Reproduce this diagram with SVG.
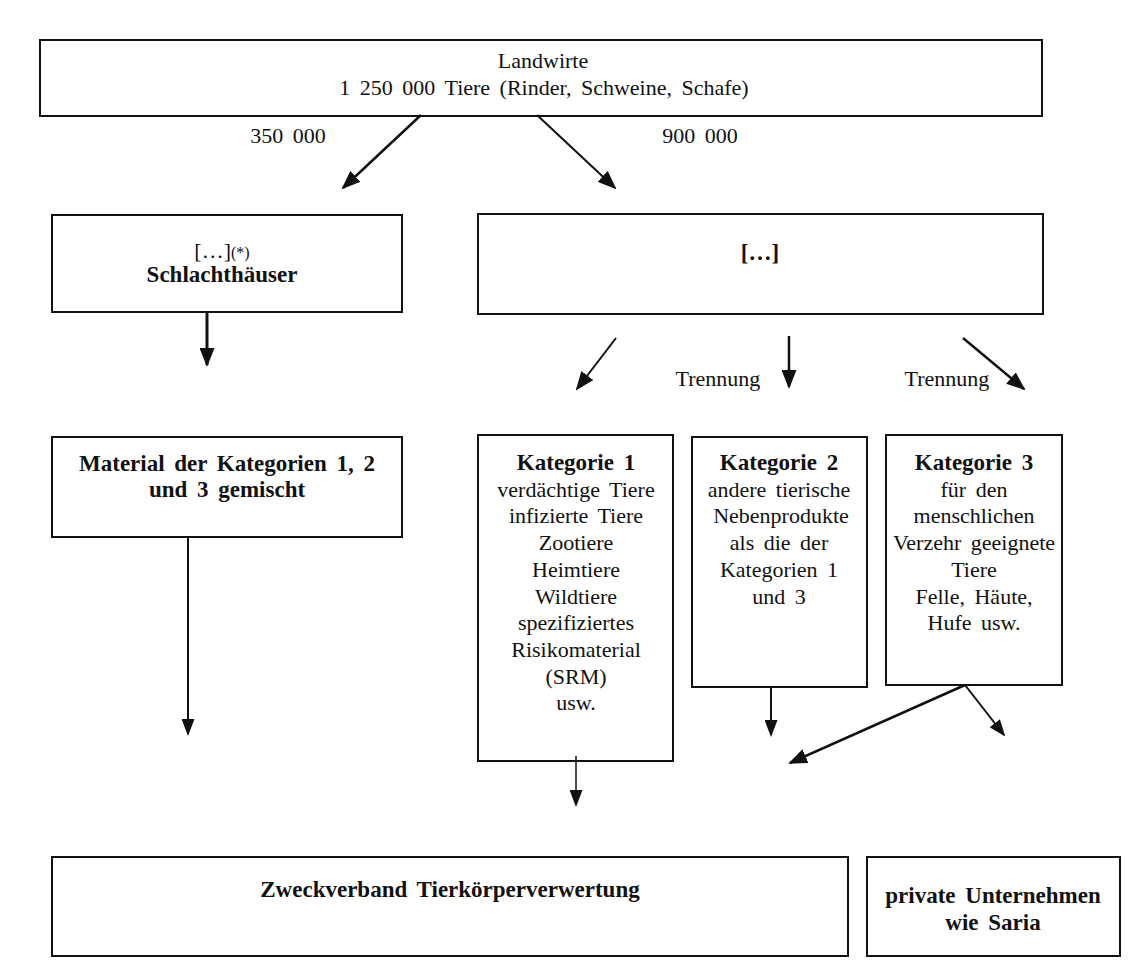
<svg xmlns="http://www.w3.org/2000/svg" width="1138" height="974" viewBox="0 0 1138 974">
<style>
.box{fill:#fff;stroke:#111;stroke-width:2}
.t{font-family:"Liberation Serif","Times New Roman",serif;font-size:22px;fill:#111;text-anchor:middle;word-spacing:4px}
.b{font-weight:bold;font-size:23px}
.c{stroke:#111;fill:none}
</style>
<defs>
<marker id="ah" markerUnits="userSpaceOnUse" markerWidth="19" markerHeight="15" viewBox="0 0 19 15" refX="17" refY="7.5" orient="auto">
<path d="M0,0 L19,7.5 L0,15 z" fill="#111"/>
</marker>
<marker id="ahs" markerUnits="userSpaceOnUse" markerWidth="17" markerHeight="13" viewBox="0 0 17 13" refX="15" refY="6.5" orient="auto">
<path d="M0,0 L17,6.5 L0,13 z" fill="#111"/>
</marker>
</defs>
<rect width="1138" height="974" fill="#fff"/>

<g id="landwirte">
<rect class="box" x="40" y="40" width="1002" height="76"/>
<text class="t" x="543" y="68">Landwirte</text>
<text class="t" x="544" y="95">1 250 000 Tiere (Rinder, Schweine, Schafe)</text>
</g>

<g id="labels">
<text class="t" x="288" y="143">350 000</text>
<text class="t" x="700" y="143">900 000</text>
<text class="t" x="718" y="386">Trennung</text>
<text class="t" x="947" y="386">Trennung</text>
</g>

<g id="schlachthaeuser">
<rect class="box" x="52" y="215" width="350" height="97"/>
<text class="t" x="222" y="258">[…]<tspan font-size="16">(*)</tspan></text>
<text class="t b" x="222" y="282">Schlachthäuser</text>
</g>

<g id="andere">
<rect class="box" x="478" y="214" width="565" height="100"/>
<text class="t b" x="760" y="260">[…]</text>
</g>

<g id="material">
<rect class="box" x="52" y="437" width="350" height="100"/>
<text class="t b" x="227" y="471">Material der Kategorien 1, 2</text>
<text class="t b" x="227" y="497">und 3 gemischt</text>
</g>

<g id="kategorie1">
<rect class="box" x="478" y="435" width="195" height="326"/>
<text class="t" x="576" y="470"><tspan class="b">Kategorie 1</tspan><tspan x="576" dy="26.7">verdächtige Tiere</tspan><tspan x="576" dy="26.7">infizierte Tiere</tspan><tspan x="576" dy="26.7">Zootiere</tspan><tspan x="576" dy="26.7">Heimtiere</tspan><tspan x="576" dy="26.7">Wildtiere</tspan><tspan x="576" dy="26.7">spezifiziertes</tspan><tspan x="576" dy="26.7">Risikomaterial</tspan><tspan x="576" dy="26.7">(SRM)</tspan><tspan x="576" dy="26.7">usw.</tspan></text>
</g>

<g id="kategorie2">
<rect class="box" x="692" y="437" width="175" height="250"/>
<text class="t" x="779" y="470"><tspan class="b">Kategorie 2</tspan><tspan x="779" dy="26.7">andere tierische</tspan><tspan x="781" dy="26.7">Nebenprodukte</tspan><tspan x="779" dy="26.7">als die der</tspan><tspan x="779" dy="26.7">Kategorien 1</tspan><tspan x="779" dy="26.7">und 3</tspan></text>
</g>

<g id="kategorie3">
<rect class="box" x="886" y="435" width="176" height="250"/>
<text class="t" x="974" y="470"><tspan class="b">Kategorie 3</tspan><tspan x="974" dy="26.7">für den</tspan><tspan x="974" dy="26.7">menschlichen</tspan><tspan x="974" dy="26.7">Verzehr geeignete</tspan><tspan x="974" dy="26.7">Tiere</tspan><tspan x="974" dy="26.7">Felle, Häute,</tspan><tspan x="974" dy="26.7">Hufe usw.</tspan></text>
</g>

<g id="zweckverband">
<rect class="box" x="52" y="857" width="796" height="99"/>
<text class="t b" x="450" y="897">Zweckverband Tierkörperverwertung</text>
</g>

<g id="private">
<rect class="box" x="867" y="857" width="253" height="99"/>
<text class="t b" x="993" y="903">private Unternehmen</text>
<text class="t b" x="993" y="930">wie Saria</text>
</g>

<g id="connectors">
<line class="c" x1="421" y1="115" x2="343" y2="188" stroke-width="2.5" marker-end="url(#ah)"/>
<line class="c" x1="537" y1="115" x2="615" y2="188" stroke-width="2" marker-end="url(#ah)"/>
<line class="c" x1="207" y1="312" x2="207" y2="365" stroke-width="3" marker-end="url(#ah)"/>
<line class="c" x1="616" y1="338" x2="577" y2="389" stroke-width="2" marker-end="url(#ah)"/>
<line class="c" x1="789" y1="336" x2="789" y2="387" stroke-width="2.5" marker-end="url(#ah)"/>
<line class="c" x1="963" y1="338" x2="1024" y2="389" stroke-width="2.5" marker-end="url(#ah)"/>
<line class="c" x1="188" y1="537" x2="188" y2="734" stroke-width="2" marker-end="url(#ahs)"/>
<line class="c" x1="576" y1="756" x2="576" y2="805" stroke-width="1.5" marker-end="url(#ahs)"/>
<line class="c" x1="771" y1="686" x2="771" y2="735" stroke-width="2" marker-end="url(#ahs)"/>
<line class="c" x1="965" y1="685" x2="790" y2="763" stroke-width="2.5" marker-end="url(#ah)"/>
<line class="c" x1="965" y1="685" x2="1004" y2="735" stroke-width="2" marker-end="url(#ahs)"/>
</g>
</svg>
